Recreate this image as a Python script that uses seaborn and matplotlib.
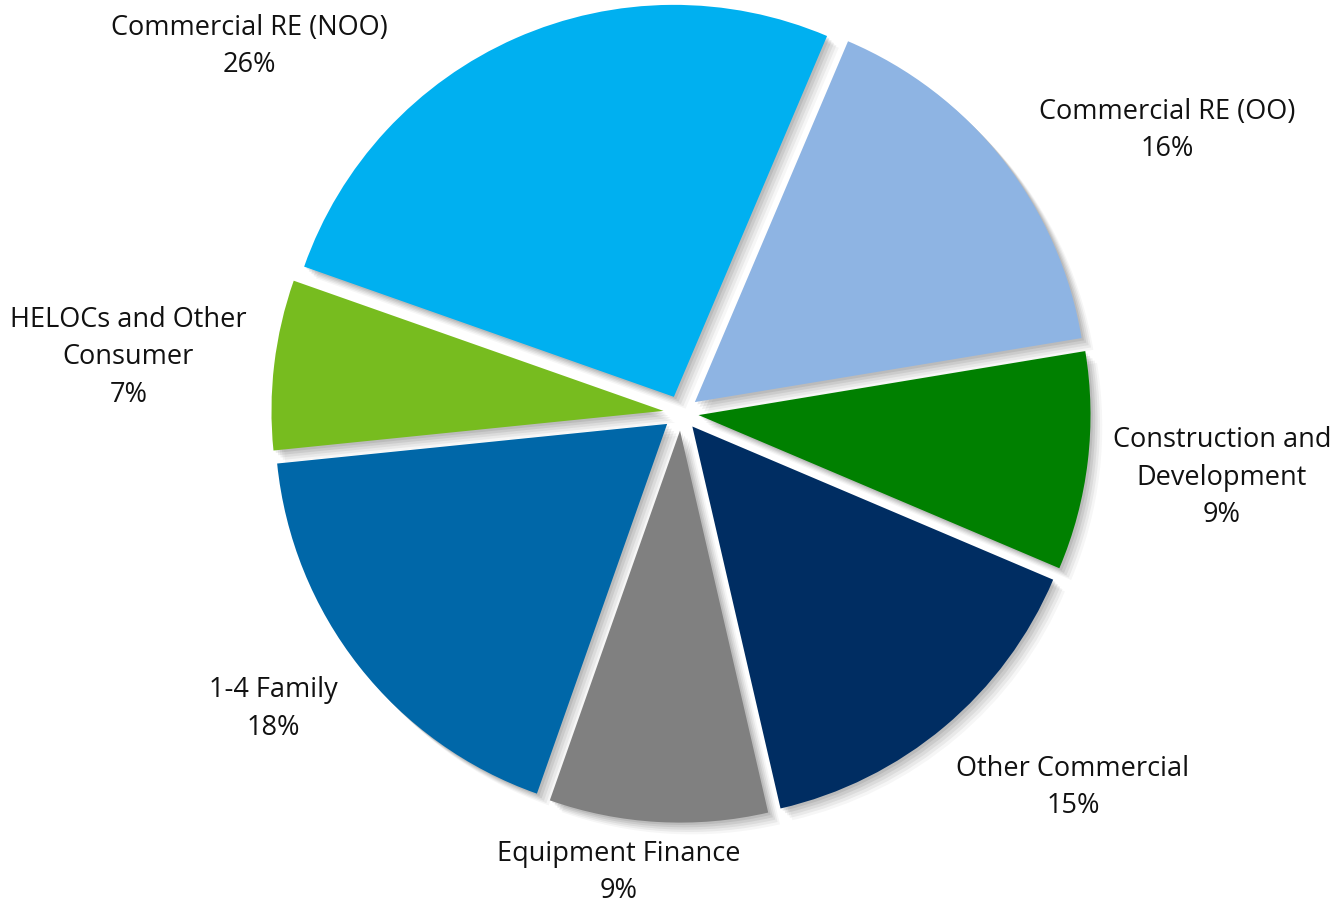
import matplotlib
matplotlib.use("Agg")
import matplotlib.pyplot as plt
import seaborn as sns

sns.set_theme(style="white")
plt.rcParams['font.family'] = ['Open Sans', 'DejaVu Sans']

# datos del grafico (orden horario desde arriba)
categorias = ["Commercial RE (OO)", "Construction and\nDevelopment", "Other Commercial",
              "Equipment Finance", "1-4 Family", "HELOCs and Other\nConsumer",
              "Commercial RE (NOO)"]
porcentajes = [16, 9, 15, 9, 18, 7, 26]
colores = ["#8EB4E3", "#008000", "#002D62", "#808080", "#0067A8", "#77BC1F", "#00B0F0"]

# posicion de cada etiqueta en unidades de radio
pos_etiquetas = [(1.24, 0.72), (1.38, -0.165), (1.00, -0.955), (-0.16, -1.172),
                 (-1.04, -0.755), (-1.41, 0.142), (-1.10, 0.935)]

R_PX = 392.0
CX, CY = 681.0, 413.0
W, H = 1331, 908

fig = plt.figure(figsize=(W / 100, H / 100), dpi=100)
ax = fig.add_axes([0, 0, 1, 1])

explode = [0.045] * len(porcentajes)

# sombra difusa: varias capas grises desplazadas
for dx, al in [(0.030, 0.035), (0.024, 0.05), (0.018, 0.06), (0.012, 0.07), (0.006, 0.08)]:
    ax.pie(porcentajes, explode=explode, startangle=67, counterclock=False,
           colors=["#000000"] * len(porcentajes), center=(dx, -dx),
           wedgeprops=dict(linewidth=0, alpha=al))

wedges, textos = ax.pie(porcentajes, explode=explode, startangle=67, counterclock=False,
                        colors=colores, labels=[f"{c}\n{p}%" for c, p in zip(categorias, porcentajes)],
                        wedgeprops=dict(linewidth=0),
                        textprops=dict(fontsize=19.5, color="#111111", linespacing=1.45))

for t, (x, y) in zip(textos, pos_etiquetas):
    t.set_position((x, y))
    t.set_horizontalalignment("center")
    t.set_verticalalignment("center")
    t.set_multialignment("center")

ax.set_xlim(-CX / R_PX, (W - CX) / R_PX)
ax.set_ylim(-(H - CY) / R_PX, CY / R_PX)
ax.set_aspect("equal")
ax.axis("off")

fig.savefig("out.png", dpi=100, facecolor="white")
